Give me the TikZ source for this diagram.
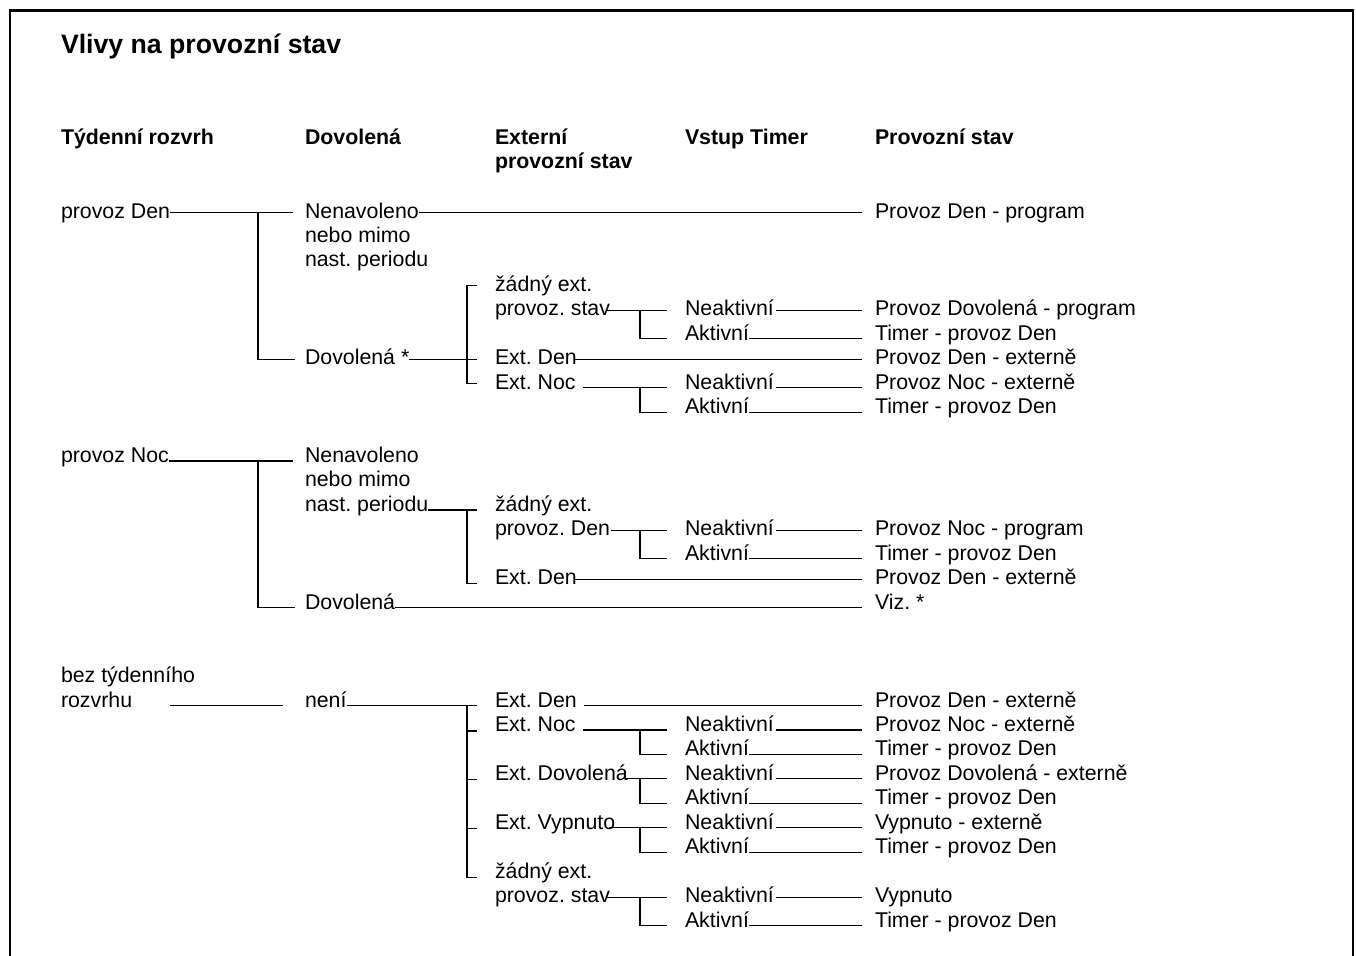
\documentclass[tikz,border=0pt]{standalone}
\usepackage{fontspec}
\setmainfont{Liberation Sans}
\frenchspacing
% line levels above the text baseline
\newcommand\lvM{5.5pt}
\newcommand\lvL{1.5pt}
% straight connector from the end of one text to just before another on the same row
% #1 from, #2 to, #3 level, #4 start shift, #5 gap before target
\newcommand\link[5]{\draw[wire] ([yshift=#3,xshift=#4]#1.base east) -- ([yshift=#3,xshift=-#5]#2.base west);}
% branch to the Timer input: #1 source, #2 Neaktivni, #3 Aktivni, #4 level, #5 start shift
\newcommand\tfork[5]{%
  \draw[wire] ([yshift=#4,xshift=#5]#1.base east) -- ([yshift=#4,xshift=-18pt]#2.base west);
  \draw[wire] ([yshift=#4,xshift=-45pt]#2.base west) |- ([yshift=1.5pt,xshift=-18pt]#3.base west);}
\begin{document}
\begin{tikzpicture}[x=1pt,y=-1pt,
  declare function={rb(\k)=218+24.45*\k;},
  txt/.style={anchor=base west, inner sep=0pt, outer sep=0pt, font=\fontsize{21.33}{24.45}\selectfont},
  head/.style={txt, font=\fontsize{21.33}{24.45}\selectfont\bfseries},
  ttl/.style={txt, font=\fontsize{26.67}{30}\selectfont\bfseries},
  wire/.style={line width=1.2pt},
  frame/.style={line width=2.5pt}]
\useasboundingbox (0,0) rectangle (1356,955);

% outer frame (open at the bottom)
\draw[frame] (10,960) -- (10,10.3) -- (1352.8,10.3) -- (1352.8,960);

% title and column headers
\node[ttl] (title) at (61,53.3) {Vlivy na provozní stav};
\node[head] (h1) at (61,144) {Týdenní rozvrh};
\node[head] (h2) at (305,144) {Dovolená};
\node[head] (h3) at (495,144) {Externí};
\node[head] (h3b) at (495,168.5) {provozní stav};
\node[head] (h4) at (685,144) {Vstup Timer};
\node[head] (h5) at (875,144) {Provozní stav};

% ---- provoz Den ----
\node[txt] (pden) at (61,{rb(0)}) {provoz Den};
\node[txt] (nen1) at (305,{rb(0)}) {Nenavoleno};
\node[txt] (nen1b) at (305,{rb(1)}) {nebo mimo};
\node[txt] (nen1c) at (305,{rb(2)}) {nast. periodu};
\node[txt] (dov1) at (305,{rb(6)}) {Dovolená *};
\node[txt] (zad1) at (495,{rb(3)}) {žádný ext.};
\node[txt] (zad1b) at (495,{rb(4)}) {provoz. stav};
\node[txt] (eden1) at (495,{rb(6)}) {Ext. Den};
\node[txt] (enoc1) at (495,{rb(7)}) {Ext. Noc};
\node[txt] (neak1) at (685,{rb(4)}) {Neaktivní};
\node[txt] (akt1) at (685,{rb(5)}) {Aktivní};
\node[txt] (neak2) at (685,{rb(7)}) {Neaktivní};
\node[txt] (akt2) at (685,{rb(8)}) {Aktivní};
\node[txt] (st1) at (875,{rb(0)}) {Provoz Den - program};
\node[txt] (st2) at (875,{rb(4)}) {Provoz Dovolená - program};
\node[txt] (st3) at (875,{rb(5)}) {Timer - provoz Den};
\node[txt] (st4) at (875,{rb(6)}) {Provoz Den - externě};
\node[txt] (st5) at (875,{rb(7)}) {Provoz Noc - externě};
\node[txt] (st6) at (875,{rb(8)}) {Timer - provoz Den};

\link{pden}{nen1}{\lvM}{0pt}{12pt}
\draw[wire] ([yshift=\lvM,xshift=-47pt]nen1.base west) |- ([yshift=\lvM,xshift=-10pt]dov1.base west);
\link{nen1}{st1}{\lvM}{0pt}{13pt}
\draw[wire] ([yshift=\lvM]dov1.base east) -- ([yshift=\lvM,xshift=-18pt]eden1.base west);
\draw[wire] ([yshift=\lvM,xshift=-18pt]zad1.base west) -- ++(-10,0) |- ([yshift=\lvM,xshift=-18pt]enoc1.base west);
\link{eden1}{st4}{\lvM}{-2pt}{13pt}
\tfork{zad1b}{neak1}{akt1}{\lvM}{-3pt}
\tfork{enoc1}{neak2}{akt2}{\lvL}{7pt}
\link{neak1}{st2}{\lvM}{2pt}{13pt}
\link{akt1}{st3}{\lvL}{0pt}{13pt}
\link{neak2}{st5}{\lvL}{2pt}{13pt}
\link{akt2}{st6}{\lvL}{0pt}{13pt}

% ---- provoz Noc ----
\node[txt] (pnoc) at (61,{rb(10)}) {provoz Noc};
\node[txt] (nen2) at (305,{rb(10)}) {Nenavoleno};
\node[txt] (nen2b) at (305,{rb(11)}) {nebo mimo};
\node[txt] (nen2c) at (305,{rb(12)}) {nast. periodu};
\node[txt] (dov2) at (305,{rb(16)}) {Dovolená};
\node[txt] (zad2) at (495,{rb(12)}) {žádný ext.};
\node[txt] (zad2b) at (495,{rb(13)}) {provoz. Den};
\node[txt] (eden2) at (495,{rb(15)}) {Ext. Den};
\node[txt] (neak3) at (685,{rb(13)}) {Neaktivní};
\node[txt] (akt3) at (685,{rb(14)}) {Aktivní};
\node[txt] (st7) at (875,{rb(13)}) {Provoz Noc - program};
\node[txt] (st8) at (875,{rb(14)}) {Timer - provoz Den};
\node[txt] (st9) at (875,{rb(15)}) {Provoz Den - externě};
\node[txt] (st10) at (875,{rb(16)}) {Viz. *};

\link{pnoc}{nen2}{\lvL}{0pt}{12pt}
\draw[wire] ([yshift=\lvL,xshift=-47pt]nen2.base west) |- ([yshift=\lvL,xshift=-10pt]dov2.base west);
\link{dov2}{st10}{\lvL}{0pt}{13pt}
\draw[wire] ([yshift=\lvL]nen2c.base east) -- ([yshift=\lvL,xshift=-18pt]zad2.base west);
\draw[wire] ([yshift=\lvL,xshift=-28pt]zad2.base west) |- ([yshift=\lvL,xshift=-18pt]eden2.base west);
\tfork{zad2b}{neak3}{akt3}{\lvM}{1pt}
\link{eden2}{st9}{\lvM}{-2pt}{13pt}
\link{neak3}{st7}{\lvM}{2pt}{13pt}
\link{akt3}{st8}{\lvL}{0pt}{13pt}

% ---- bez tydenniho rozvrhu ----
\node[txt] (bez) at (61,{rb(19)}) {bez týdenního};
\node[txt] (bezb) at (61,{rb(20)}) {rozvrhu};
\node[txt] (neni) at (305,{rb(20)}) {není};
\node[txt] (eden3) at (495,{rb(20)}) {Ext. Den};
\node[txt] (enoc3) at (495,{rb(21)}) {Ext. Noc};
\node[txt] (edov3) at (495,{rb(23)}) {Ext. Dovolená};
\node[txt] (evyp3) at (495,{rb(25)}) {Ext. Vypnuto};
\node[txt] (zad3) at (495,{rb(27)}) {žádný ext.};
\node[txt] (zad3b) at (495,{rb(28)}) {provoz. stav};
\node[txt] (neak4) at (685,{rb(21)}) {Neaktivní};
\node[txt] (akt4) at (685,{rb(22)}) {Aktivní};
\node[txt] (neak5) at (685,{rb(23)}) {Neaktivní};
\node[txt] (akt5) at (685,{rb(24)}) {Aktivní};
\node[txt] (neak6) at (685,{rb(25)}) {Neaktivní};
\node[txt] (akt6) at (685,{rb(26)}) {Aktivní};
\node[txt] (neak7) at (685,{rb(28)}) {Neaktivní};
\node[txt] (akt7) at (685,{rb(29)}) {Aktivní};
\node[txt] (st11) at (875,{rb(20)}) {Provoz Den - externě};
\node[txt] (st12) at (875,{rb(21)}) {Provoz Noc - externě};
\node[txt] (st13) at (875,{rb(22)}) {Timer - provoz Den};
\node[txt] (st14) at (875,{rb(23)}) {Provoz Dovolená - externě};
\node[txt] (st15) at (875,{rb(24)}) {Timer - provoz Den};
\node[txt] (st16) at (875,{rb(25)}) {Vypnuto - externě};
\node[txt] (st17) at (875,{rb(26)}) {Timer - provoz Den};
\node[txt] (st18) at (875,{rb(28)}) {Vypnuto};
\node[txt] (st19) at (875,{rb(29)}) {Timer - provoz Den};

\draw[wire] ([yshift=\lvL,xshift=38pt]bezb.base east) -- ([yshift=\lvL,xshift=-22pt]neni.base west);
\draw[wire] ([yshift=\lvL]neni.base east) -- ([yshift=\lvL,xshift=-18pt]eden3.base west);
\draw[wire] ([yshift=\lvL,xshift=-28pt]eden3.base west) -- ([yshift=0.5pt,xshift=-28pt]zad3.base west) -- ++(10,0);
\foreach \n in {enoc3,edov3,evyp3}
  \draw[wire] ([yshift=0.5pt,xshift=-28pt]\n.base west) -- ++(10,0);
\link{eden3}{st11}{\lvL}{7pt}{13pt}
\tfork{enoc3}{neak4}{akt4}{\lvL}{7pt}
\tfork{edov3}{neak5}{akt5}{\lvL}{-6pt}
\tfork{evyp3}{neak6}{akt6}{\lvL}{-6pt}
\tfork{zad3b}{neak7}{akt7}{\lvM}{-3pt}
\link{neak4}{st12}{\lvL}{2pt}{13pt}
\link{akt4}{st13}{\lvL}{0pt}{13pt}
\link{neak5}{st14}{\lvL}{2pt}{13pt}
\link{akt5}{st15}{\lvL}{0pt}{13pt}
\link{neak6}{st16}{\lvL}{2pt}{13pt}
\link{akt6}{st17}{\lvL}{0pt}{13pt}
\link{neak7}{st18}{\lvM}{2pt}{13pt}
\link{akt7}{st19}{\lvL}{0pt}{13pt}
\end{tikzpicture}
\end{document}
